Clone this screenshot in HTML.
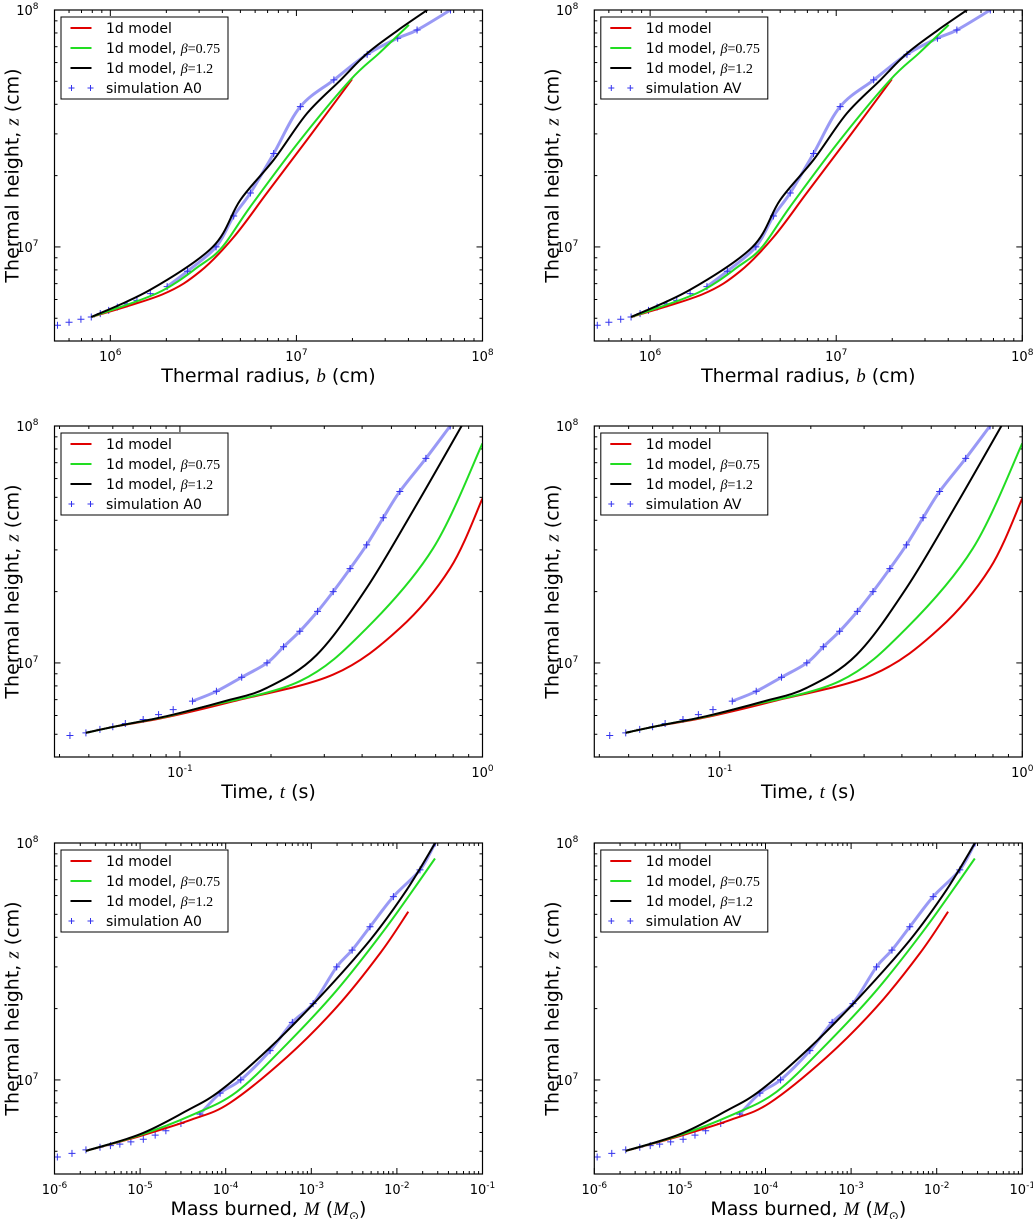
<!DOCTYPE html>
<html><head><meta charset="utf-8"><style>
html,body{margin:0;padding:0;background:#fff;}
svg{display:block;font-family:"DejaVu Sans","Liberation Sans",sans-serif;}
</style></head><body>
<svg id="fig" width="1033" height="1219" viewBox="0 0 1033 1219" xmlns="http://www.w3.org/2000/svg"></svg>
<script>
// ---------- data: thermal radius panel ----------
const bRedX=[7.9e5,1.9e6,3.05e6,4.6e6,6.95e6,1.14e7,1.99e7];
const bRedZ=[5.06e6,6.3e6,7.9e6,1.1e7,1.69e7,2.83e7,5.1e7];
const bGreenX=[7.9e5,1.8e6,3.0e6,4.0e6,5.66e6,1.05e7,1.95e7,2.8e7,4.02e7];
const bGreenZ=[5.06e6,6.4e6,8.3e6,1.0e7,1.48e7,2.83e7,5.07e7,6.6e7,8.65e7];
const bBlackX=[7.9e5,1.64e6,3.55e6,5.0e6,7.55e6,1.14e7,1.73e7,2.4e7,3.5e7,5.05e7];
const bBlackZ=[5.06e6,6.59e6,1.0e7,1.58e7,2.33e7,3.66e7,5.07e7,6.56e7,8.2e7,1.0e8];
const bSimX=[5.2e5,6.0e5,6.95e5,7.9e5,8.83e5,9.8e5,1.09e6,1.23e6,1.39e6,1.64e6,2.02e6,2.6e6,3.7e6,4.6e6,5.66e6,7.55e6,1.05e7,1.59e7,2.4e7,3.5e7,4.45e7,6.73e7];
const bSimZ=[4.67e6,4.81e6,4.95e6,5.06e6,5.23e6,5.4e6,5.57e6,5.75e6,5.95e6,6.35e6,6.8e6,7.9e6,1.0e7,1.35e7,1.69e7,2.48e7,3.91e7,5.07e7,6.5e7,7.6e7,8.23e7,1.0e8];
// ---------- data: time panel ----------
const tRedX=[0.0489,0.0618,0.0903,0.150,0.321,0.533,0.782,1.0];
const tRedZ=[5.07e6,5.41e6,5.9e6,6.89e6,8.93e6,1.40e7,2.51e7,4.95e7];
const tGreenX=[0.0489,0.0618,0.0903,0.1164,0.249,0.414,0.687,1.0];
const tGreenZ=[5.07e6,5.41e6,5.94e6,6.46e6,8.37e6,1.40e7,3.05e7,8.45e7];
const tBlackX=[0.0489,0.0618,0.0903,0.14,0.194,0.283,0.414,0.605,0.853];
const tBlackZ=[5.07e6,5.41e6,5.96e6,6.89e6,7.85e6,1.08e7,2.07e7,4.65e7,1.0e8];
const tSimX=[0.0433,0.0489,0.0544,0.06,0.066,0.0756,0.085,0.095,0.11,0.132,0.16,0.194,0.22,0.249,0.285,0.321,0.365,0.414,0.47,0.533,0.65,0.782];
const tSimZ=[4.94e6,5.07e6,5.24e6,5.38e6,5.55e6,5.77e6,6.05e6,6.35e6,6.9e6,7.59e6,8.7e6,1.0e7,1.17e7,1.36e7,1.65e7,2.0e7,2.5e7,3.15e7,4.1e7,5.29e7,7.3e7,1.0e8];
// ---------- data: mass panel ----------
const mRedX=[2.33e-6,1.0e-5,4.0e-5,1.12e-4,5.2e-4,1.98e-3,6.35e-3,1.36e-2];
const mRedZ=[5.02e6,5.8e6,6.8e6,8.0e6,1.25e7,2.03e7,3.42e7,5.13e7];
const mGreenX=[2.33e-6,1.0e-5,4.0e-5,1.34e-4,5.2e-4,1.98e-3,7.6e-3,2.79e-2];
const mGreenZ=[5.02e6,5.85e6,7.1e6,8.9e6,1.42e7,2.39e7,4.43e7,8.6e7];
const mBlackX=[2.33e-6,1.0e-5,3.5e-5,8.6e-5,3.3e-4,1.26e-3,4.85e-3,1.3e-2,2.8e-2];
const mBlackZ=[5.02e6,5.9e6,7.41e6,9.0e6,1.37e7,2.24e7,3.89e7,6.34e7,1.0e8];
const mSimX=[1.08e-6,1.6e-6,2.33e-6,3.4e-6,4.5e-6,5.8e-6,7.8e-6,1.09e-5,1.5e-5,2.0e-5,3.0e-5,5.0e-5,8.6e-5,1.5e-4,3.3e-4,6.0e-4,1.05e-3,1.98e-3,3.0e-3,4.85e-3,9.1e-3,1.86e-2,2.8e-2];
const mSimZ=[4.73e6,4.9e6,5.07e6,5.2e6,5.28e6,5.36e6,5.48e6,5.62e6,5.85e6,6.1e6,6.55e6,7.17e6,8.8e6,1.0e7,1.33e7,1.75e7,2.1e7,3.0e7,3.53e7,4.43e7,5.94e7,7.7e7,1.0e8];
// tick labels
const bTicks=[6,7,8], tTicks=[-1,0], mTicks=[-6,-5,-4,-3,-2,-1], zTicks=[7,8];

const NS="http://www.w3.org/2000/svg";
const fig=document.getElementById('fig');
function mk(tag,attrs,parent){const e=document.createElementNS(NS,tag);for(const k in attrs)e.setAttribute(k,attrs[k]);(parent||fig).appendChild(e);return e;}
const L=Math.log10;
function catmull(pts){
  if(pts.length<2)return '';
  let d='M'+pts[0][0].toFixed(1)+','+pts[0][1].toFixed(1);
  for(let i=0;i<pts.length-1;i++){
    const p0=pts[Math.max(0,i-1)],p1=pts[i],p2=pts[i+1],p3=pts[Math.min(pts.length-1,i+2)];
    const c1=[p1[0]+(p2[0]-p0[0])/6,p1[1]+(p2[1]-p0[1])/6];
    const c2=[p2[0]-(p3[0]-p1[0])/6,p2[1]-(p3[1]-p1[1])/6];
    d+='C'+c1[0].toFixed(1)+','+c1[1].toFixed(1)+' '+c2[0].toFixed(1)+','+c2[1].toFixed(1)+' '+p2[0].toFixed(1)+','+p2[1].toFixed(1);
  }
  return d;
}
function panel(p){
  const W=428,H=331,x0=p.ox,y0=p.oy;
  const ylo=6.603,yhi=8;
  const X=v=>x0+(L(v)-p.xlo)/(p.xhi-p.xlo)*W;
  const Y=v=>y0+H-(L(v)-ylo)/(yhi-ylo)*H;
  const g=mk('g',{});
  
  
  const cid='clip'+p.name;
  const cp=mk('clipPath',{id:cid},g);mk('rect',{x:x0,y:y0,width:W,height:H},cp);
  const tg=mk('g',{stroke:'#000','stroke-width':1},g);
  
  
  for(let d=Math.floor(p.xlo);d<=Math.ceil(p.xhi);d++){
    for(let m=1;m<10;m++){
      const lv=d+L(m); if(lv<p.xlo-1e-6||lv>p.xhi+1e-6)continue;
      const px=x0+(lv-p.xlo)/(p.xhi-p.xlo)*W, len=m==1?6:3;
      mk('line',{x1:px,x2:px,y1:y0+H,y2:y0+H-len},tg);
      mk('line',{x1:px,x2:px,y1:y0,y2:y0+len},tg);
    }
  }
  for(let d=6;d<=8;d++){
    for(let m=1;m<10;m++){
      const lv=d+L(m); if(lv<ylo-1e-6||lv>yhi+1e-6)continue;
      const py=y0+H-(lv-ylo)/(yhi-ylo)*H, len=m==1?6:3;
      mk('line',{x1:x0,x2:x0+len,y1:py,y2:py},tg);
      mk('line',{x1:x0+W,x2:x0+W-len,y1:py,y2:py},tg);
    }
  }
  p.xt.forEach(d=>{
    const px=x0+(d-p.xlo)/(p.xhi-p.xlo)*W;
    const t=mk('text',{x:px,y:y0+H+20,'text-anchor':'middle','font-size':13},g);
    
    
    t.innerHTML='10<tspan dy="-6" font-size="9">'+d+'</tspan>';
  });
  zTicks.forEach(d=>{
    const py=y0+H-(d-ylo)/(yhi-ylo)*H;
    const t=mk('text',{x:x0-16,y:py+5,'text-anchor':'end','font-size':13},g);
    
    
    t.innerHTML='10<tspan dy="-6" font-size="9">'+d+'</tspan>';
  });
  const xl=mk('text',{x:x0+W/2,y:y0+H+41,'text-anchor':'middle','font-size':19},g);
  
  
  xl.innerHTML=p.xlabel;
  const yl=mk('text',{x:0,y:0,'text-anchor':'middle','font-size':19,transform:'translate('+(x0-36)+','+(y0+H/2)+') rotate(-90)'},g);
  
  
  yl.innerHTML='Thermal height, <tspan font-family="Liberation Serif,serif" font-style="italic">z</tspan> (cm)';
  const sg=mk('g',{'clip-path':'url(#'+cid+')'},g);
  const sim=p.sim.x.map((v,i)=>[X(v),Y(p.sim.z[i])]);
  const band=mk('path',{d:catmull(sim.slice(p.bandFrom)),fill:'none',stroke:'#5555ee','stroke-width':3,'stroke-opacity':0.6},sg);
  
  
  sim.forEach(q=>{
    const pl=mk('path',{d:'M'+(q[0]-3.5)+','+q[1]+'h7M'+q[0]+','+(q[1]-3.5)+'v7',stroke:'#3333ee','stroke-width':1},sg);
    
    
  });
  [['red','#e00000',p.red,'model-line-red'],['green','#22dd22',p.green,'model-line-beta-0.75'],['black','#000',p.black,'model-line-beta-1.2']].forEach(s=>{
    const pts=s[2].x.map((v,i)=>[X(v),Y(s[2].z[i])]);
    const ln=mk('path',{d:catmull(pts),fill:'none',stroke:s[1],'stroke-width':2},sg);
    
    
  });
  const fr=mk('rect',{x:x0,y:y0,width:W,height:H,fill:'none',stroke:'#000','stroke-width':1.2},g);
  
  
  const lg=mk('g',{},g);
  
  
  mk('rect',{x:x0+6.5,y:y0+7,width:167,height:82,fill:'#fff',stroke:'#000','stroke-width':1},lg);
  const labs=['1d model','1d model, <tspan font-family="Liberation Serif,serif" font-style="italic">β</tspan><tspan font-family="Liberation Serif,serif">=0.75</tspan>','1d model, <tspan font-family="Liberation Serif,serif" font-style="italic">β</tspan><tspan font-family="Liberation Serif,serif">=1.2</tspan>','simulation '+p.simName];
  const cols=['#e00000','#22dd22','#000',null];
  labs.forEach((s,i)=>{
    const ly=y0+18+i*20;
    const e=mk('g',{},lg);
    
    
    if(cols[i])mk('line',{x1:x0+16,x2:x0+37,y1:ly,y2:ly,stroke:cols[i],'stroke-width':2},e);
    else [x0+17,x0+36].forEach(cx=>mk('path',{d:'M'+(cx-3)+','+ly+'h6M'+cx+','+(ly-3)+'v6',stroke:'#3333ee','stroke-width':1},e));
    const t=mk('text',{x:x0+51.5,y:ly+5,'font-size':14},e);
    t.innerHTML=s;
  });
}
const bData={red:{x:bRedX,z:bRedZ},green:{x:bGreenX,z:bGreenZ},black:{x:bBlackX,z:bBlackZ},sim:{x:bSimX,z:bSimZ}};
const tData={red:{x:tRedX,z:tRedZ},green:{x:tGreenX,z:tGreenZ},black:{x:tBlackX,z:tBlackZ},sim:{x:tSimX,z:tSimZ}};
const mData={red:{x:mRedX,z:mRedZ},green:{x:mGreenX,z:mGreenZ},black:{x:mBlackX,z:mBlackZ},sim:{x:mSimX,z:mSimZ}};
const bLabel='Thermal radius, <tspan font-family="Liberation Serif,serif" font-style="italic">b</tspan> (cm)';
const tLabel='Time, <tspan font-family="Liberation Serif,serif" font-style="italic">t</tspan> (s)';
const mLabel='Mass burned, <tspan font-family="Liberation Serif,serif" font-style="italic">M</tspan> (<tspan font-family="Liberation Serif,serif" font-style="italic">M</tspan><tspan dy="5" font-size="12">⊙</tspan><tspan dy="-5">)</tspan>';
[[54.5,'A0','left'],[594.3,'AV','right']].forEach(c=>{
  panel(Object.assign({name:'radius-panel-'+c[2],ox:c[0],oy:10,xlo:5.70,xhi:8,xt:bTicks,xlabel:bLabel,simName:c[1],bandFrom:10},bData));
  panel(Object.assign({name:'time-panel-'+c[2],ox:c[0],oy:426,xlo:L(0.0385),xhi:0,xt:tTicks,xlabel:tLabel,simName:c[1],bandFrom:8},tData));
  panel(Object.assign({name:'mass-panel-'+c[2],ox:c[0],oy:843,xlo:-6,xhi:-1,xt:mTicks,xlabel:mLabel,simName:c[1],bandFrom:11},mData));
});
</script>
</body></html>
